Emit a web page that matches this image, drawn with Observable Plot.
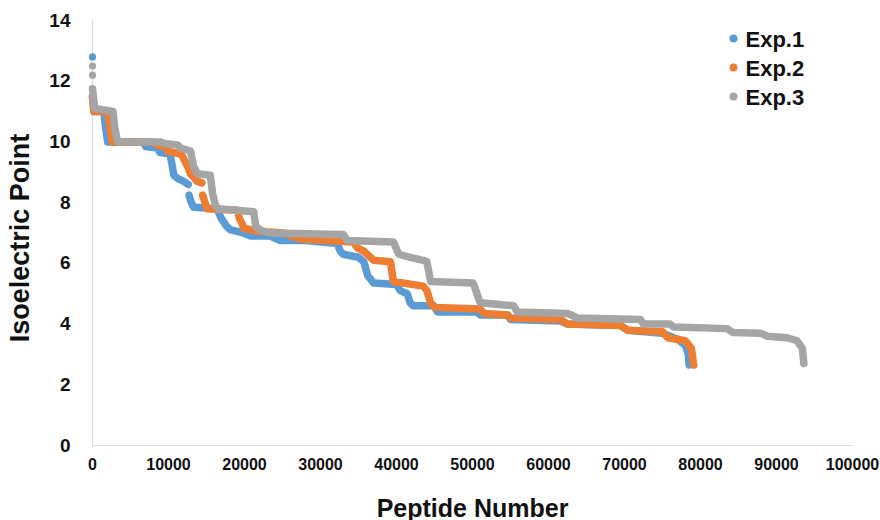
<!DOCTYPE html>
<html>
<head>
<meta charset="utf-8">
<script src="https://cdn.jsdelivr.net/npm/d3@7"></script>
<script src="https://cdn.jsdelivr.net/npm/@observablehq/plot@0.6"></script>
<style>
  html, body { margin: 0; padding: 0; background: #fff; }
  #chart svg { display: block; }
</style>
</head>
<body>
<div id="chart"></div>
<script>
// ---- data ----
const seriesNames = ["Exp.1", "Exp.2", "Exp.3"];
const seriesColors = ["#5B9BD5", "#ED7D31", "#A5A5A5"];
const xTicks = [0, 10000, 20000, 30000, 40000, 50000, 60000, 70000, 80000, 90000, 100000];
const yTicks = [0, 2, 4, 6, 8, 10, 12, 14];

// [peptide number, isoelectric point]; null = break in the curve
const exp1 = [
  [0, 11.5], [200, 11.0], [1500, 11.0], [1700, 10.5], [2000, 10.0], [6700, 10.0], [7000, 9.85],
  [8500, 9.8], [8900, 9.65], [10200, 9.6], [10500, 9.2], [10700, 8.9], [11200, 8.8], [12000, 8.7],
  [12600, 8.6], null, [12700, 8.25], [13000, 8.0], [13300, 7.85], [16400, 7.8], [16900, 7.5],
  [17700, 7.2], [18200, 7.1], [19900, 7.0], [20800, 6.9], [23400, 6.9], [24700, 6.75], [28000, 6.75],
  [32200, 6.65], [32600, 6.4], [33000, 6.3], [35000, 6.2], [35700, 6.05], [36200, 5.6], [37000, 5.35],
  [40000, 5.3], [40500, 5.1], [41400, 5.0], [41800, 4.7], [42200, 4.6], [44900, 4.6], [45400, 4.4],
  [50600, 4.4], [51000, 4.3], [54600, 4.3], [55000, 4.15], [61600, 4.1], [62500, 4.0], [69500, 3.95],
  [70400, 3.8], [75000, 3.7], [77000, 3.5], [78000, 3.3], [78400, 3.0], [78500, 2.65]
];
const exp2 = [
  [0, 11.5], [200, 11.0], [2000, 11.0], [2300, 10.5], [2600, 10.0], [8000, 10.0], [8500, 9.9],
  [9600, 9.85], [9900, 9.7], [11600, 9.6], [11900, 9.5], [12500, 9.2], [12900, 8.95], [13800, 8.7],
  [14400, 8.65], null, [14500, 8.25], [14800, 8.0], [15100, 7.8], [19100, 7.75], [19300, 7.5],
  [19700, 7.3], [19900, 7.15], [22100, 7.05], [25100, 7.0], [27400, 6.8], [34300, 6.7], [34900, 6.5],
  [35700, 6.4], [37000, 6.1], [39200, 6.05], [39600, 5.4], [43500, 5.25], [44000, 5.1], [44500, 4.7],
  [45000, 4.55], [51000, 4.5], [51500, 4.35], [54600, 4.3], [55000, 4.2], [61600, 4.15], [62500, 4.0],
  [69500, 3.95], [70400, 3.8], [75000, 3.75], [75700, 3.55], [78000, 3.45], [78800, 3.2], [79100, 2.65]
];
const exp3 = [
  [0, 11.75], [300, 11.1], [2700, 11.0], [2900, 10.5], [3300, 10.0], [8900, 10.0], [9500, 9.95],
  [11200, 9.9], [11600, 9.8], [12900, 9.7], [13300, 9.2], [13800, 8.95], [15500, 8.9], [15800, 8.3],
  [16200, 7.9], [16500, 7.8], [21200, 7.7], [21500, 7.2], [22100, 7.1], [23400, 7.0], [33000, 6.95],
  [33500, 6.75], [39600, 6.7], [40300, 6.3], [41800, 6.2], [43500, 6.1], [44000, 6.05], [44500, 5.4],
  [50100, 5.35], [51000, 4.7], [55400, 4.6], [55900, 4.4], [62500, 4.35], [63800, 4.2], [72100, 4.15],
  [72500, 4.0], [76000, 4.0], [76500, 3.9], [83500, 3.85], [84300, 3.72], [87900, 3.7], [88800, 3.6],
  [91400, 3.55], [92700, 3.45], [93400, 3.2], [93600, 2.7]
];
// isolated high points at the very start
const outliers = [
  {series: "Exp.1", x: 0, y: 12.8},
  {series: "Exp.3", x: 0, y: 12.5},
  {series: "Exp.3", x: 0, y: 12.2}
];

// ---- build table ----
function toRows(points, name) {
  const rows = [];
  let prevX = 0;
  for (const p of points) {
    if (p === null) { rows.push({series: name, x: prevX, y: NaN}); continue; }
    rows.push({series: name, x: p[0], y: p[1]});
    prevX = p[0];
  }
  return rows;
}
const allSeries = [exp1, exp2, exp3];
const font = "'Liberation Sans', Arial, sans-serif";

const marks = [
  Plot.ruleX([0], {y1: 0, y2: 14, stroke: "#d9d9d9", strokeWidth: 1.2}),
  Plot.ruleY([0], {x1: 0, x2: 100000, stroke: "#d9d9d9", strokeWidth: 1.2}),
  Plot.axisX({ticks: xTicks, tickSize: 0, tickPadding: 13, tickFormat: d => String(d), label: null,
    fill: "#111", fontSize: 16, fontWeight: "bold"}),
  Plot.axisY({ticks: yTicks, tickSize: 0, tickPadding: 22, tickFormat: d => String(d), label: null,
    fill: "#111", fontSize: 19, fontWeight: "bold"})
];
allSeries.forEach((pts, i) => {
  marks.push(Plot.line(toRows(pts, seriesNames[i]), {
    x: "x", y: "y", stroke: seriesColors[i], strokeWidth: 7.5,
    strokeLinecap: "round", strokeLinejoin: "round"
  }));
  marks.push(Plot.dot(outliers.filter(d => d.series === seriesNames[i]), {
    x: "x", y: "y", r: 3.6, fill: seriesColors[i]
  }));
});
// axis titles
marks.push(Plot.text(["Peptide Number"], {frameAnchor: "bottom", dy: 63, lineAnchor: "middle", fontSize: 25, fontWeight: "bold", fill: "#111"}));
marks.push(Plot.text(["Isoelectric Point"], {frameAnchor: "left", dx: -72, dy: 5, rotate: -90, textAnchor: "middle", lineAnchor: "middle", fontSize: 27, fontWeight: "bold", fill: "#111"}));
// legend
seriesNames.forEach((name, i) => {
  marks.push(Plot.dot([name], {frameAnchor: "top-right", dx: -119, dy: 18 + i * 29, r: 4, fill: seriesColors[i]}));
  marks.push(Plot.text([name], {frameAnchor: "top-right", dx: -107, dy: 19 + i * 29, textAnchor: "start", lineAnchor: "middle", fontSize: 22, fontWeight: "bold", fill: "#111"}));
});

const chart = Plot.plot({
  width: 880,
  height: 520,
  marginLeft: 92,
  marginRight: 28,
  marginTop: 20,
  marginBottom: 75,
  style: {fontFamily: font, fontWeight: "bold", background: "#fff"},
  x: {domain: [0, 100000]},
  y: {domain: [0, 14]},
  marks
});
document.getElementById("chart").appendChild(chart);
</script>
</body>
</html>
